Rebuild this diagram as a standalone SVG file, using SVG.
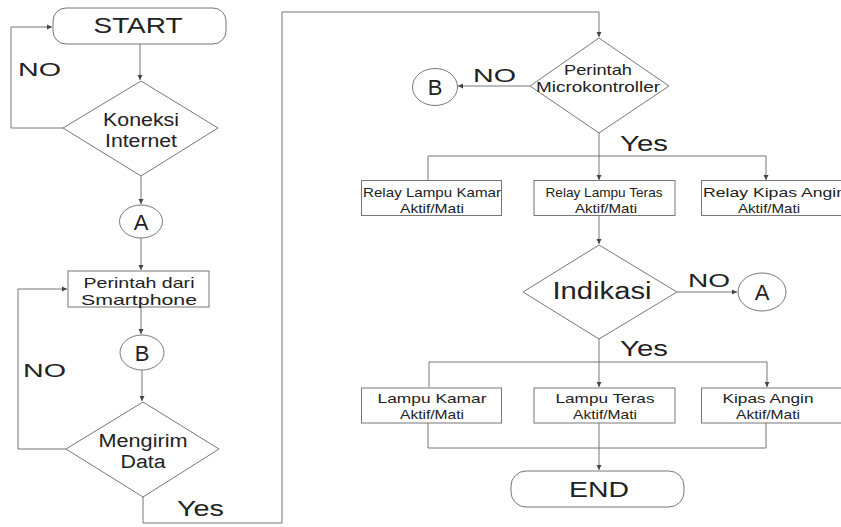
<svg xmlns="http://www.w3.org/2000/svg" width="841" height="527" viewBox="0 0 841 527">
<defs>
<marker id="ah" markerWidth="6" markerHeight="6" refX="5" refY="3" orient="auto" markerUnits="userSpaceOnUse">
<path d="M0,0.5 L5,3 L0,5.5 Z" fill="#444"/>
</marker>
<style>
.sh{fill:#fff;stroke:#777;stroke-width:1}
.cn{fill:none;stroke:#777;stroke-width:1}
.ar{marker-end:url(#ah)}
text{font-family:"Liberation Sans",Arial,sans-serif;fill:#222}
.c{text-anchor:middle}
.big{font-size:22px}
.mid{font-size:19px}
.md2{font-size:18px}
.sm{font-size:15px}
.xs{font-size:13.5px}
</style>
</defs>
<rect width="841" height="527" fill="#fff"/>
<g id="connectors">
<path class="cn ar" d="M140,44 V80"/>
<path class="cn ar" d="M63,128 H11 V27 H52"/>
<path class="cn ar" d="M141,176 V204"/>
<path class="cn ar" d="M141,238 V270"/>
<path class="cn ar" d="M141,307 V334"/>
<path class="cn ar" d="M142,370 V401"/>
<path class="cn ar" d="M66,449 H18 V289 H67"/>
<path class="cn ar" d="M143,497 V523 H282 V12 H599 V37"/>
<path class="cn ar" d="M530,86 H458"/>
<path class="cn ar" d="M599,133 V180"/>
<path class="cn ar" d="M428,180 V156 H766 V180"/>
<path class="cn ar" d="M599,216 V244"/>
<path class="cn ar" d="M677,292 H737"/>
<path class="cn ar" d="M599,339 V387"/>
<path class="cn ar" d="M429,387 V362 H767 V387"/>
<path class="cn" d="M428,423 V448 H766 V423"/>
<path class="cn ar" d="M599,423 V470"/>
</g>
<g id="labels">
<text class="mid" x="18" y="76" textLength="43" lengthAdjust="spacingAndGlyphs">NO</text>
<text class="mid" x="23" y="377" textLength="43" lengthAdjust="spacingAndGlyphs">NO</text>
<text class="big" x="177" y="516" textLength="47" lengthAdjust="spacingAndGlyphs">Yes</text>
<text class="mid" x="473" y="82" textLength="43" lengthAdjust="spacingAndGlyphs">NO</text>
<text class="big" x="620" y="151" textLength="48" lengthAdjust="spacingAndGlyphs">Yes</text>
<text class="mid" x="688" y="287" textLength="42" lengthAdjust="spacingAndGlyphs">NO</text>
<text class="big" x="620" y="356" textLength="48" lengthAdjust="spacingAndGlyphs">Yes</text>
</g>
<g id="start">
<rect class="sh" x="53" y="8" width="173" height="36" rx="13"/>
<text class="big c" x="138" y="33" textLength="89" lengthAdjust="spacingAndGlyphs">START</text>
</g>
<g id="koneksi">
<polygon class="sh" points="141,81 218,128 141,176 63,128"/>
<text class="md2 c" x="141" y="126" textLength="76" lengthAdjust="spacingAndGlyphs">Koneksi</text>
<text class="md2 c" x="141" y="147" textLength="72" lengthAdjust="spacingAndGlyphs">Internet</text>
</g>
<g id="connA1">
<ellipse class="sh" cx="141" cy="221.5" rx="21.5" ry="16.5"/>
<text class="big c" x="141" y="229.5">A</text>
</g>
<g id="perintah">
<rect class="sh" x="68" y="271" width="141" height="36"/>
<text class="sm c" x="139" y="288" textLength="111" lengthAdjust="spacingAndGlyphs">Perintah dari</text>
<text class="sm c" x="139" y="305" textLength="116" lengthAdjust="spacingAndGlyphs">Smartphone</text>
</g>
<g id="connB1">
<ellipse class="sh" cx="142" cy="352.5" rx="22" ry="17.5"/>
<text class="big c" x="142" y="360.5">B</text>
</g>
<g id="mengirim">
<polygon class="sh" points="143,402 219,449 143,497 66,449"/>
<text class="md2 c" x="143" y="447" textLength="89" lengthAdjust="spacingAndGlyphs">Mengirim</text>
<text class="md2 c" x="143" y="468" textLength="45" lengthAdjust="spacingAndGlyphs">Data</text>
</g>
<g id="micro">
<polygon class="sh" points="599,38 669,86 599,133 530,86"/>
<text class="sm c" x="598" y="75" textLength="68" lengthAdjust="spacingAndGlyphs">Perintah</text>
<text class="sm c" x="598" y="92" textLength="124" lengthAdjust="spacingAndGlyphs">Microkontroller</text>
</g>
<g id="connB2">
<ellipse class="sh" cx="435" cy="87" rx="22.5" ry="18.5"/>
<text class="big c" x="435" y="95">B</text>
</g>
<g id="relay1">
<rect class="sh" x="361.5" y="180.5" width="140" height="35"/>
<text class="xs c" x="432" y="197" textLength="138" lengthAdjust="spacingAndGlyphs">Relay Lampu Kamar</text>
<text class="xs c" x="432" y="213" textLength="64" lengthAdjust="spacingAndGlyphs">Aktif/Mati</text>
</g>
<g id="relay2">
<rect class="sh" x="534" y="180.5" width="141" height="35"/>
<text class="xs c" x="604" y="197" textLength="117" lengthAdjust="spacingAndGlyphs">Relay Lampu Teras</text>
<text class="xs c" x="606" y="213" textLength="62" lengthAdjust="spacingAndGlyphs">Aktif/Mati</text>
</g>
<g id="relay3">
<rect class="sh" x="701.5" y="180.5" width="145" height="35"/>
<text class="xs" x="703" y="197" textLength="143" lengthAdjust="spacingAndGlyphs">Relay Kipas Angin</text>
<text class="xs c" x="769" y="213" textLength="62" lengthAdjust="spacingAndGlyphs">Aktif/Mati</text>
</g>
<g id="indikasi">
<polygon class="sh" points="599,245 677,292 599,339 523,292"/>
<text class="c" style="font-size:23px" x="602" y="299" textLength="99" lengthAdjust="spacingAndGlyphs">Indikasi</text>
</g>
<g id="connA2">
<ellipse class="sh" cx="762" cy="292" rx="24" ry="19"/>
<text class="big c" x="762" y="300">A</text>
</g>
<g id="lampu1">
<rect class="sh" x="361.5" y="388" width="140" height="35"/>
<text class="xs c" x="432" y="403" textLength="109" lengthAdjust="spacingAndGlyphs">Lampu Kamar</text>
<text class="xs c" x="432" y="419" textLength="64" lengthAdjust="spacingAndGlyphs">Aktif/Mati</text>
</g>
<g id="lampu2">
<rect class="sh" x="534" y="388" width="141" height="35"/>
<text class="xs c" x="605" y="403" textLength="99" lengthAdjust="spacingAndGlyphs">Lampu Teras</text>
<text class="xs c" x="605" y="419" textLength="64" lengthAdjust="spacingAndGlyphs">Aktif/Mati</text>
</g>
<g id="kipas">
<rect class="sh" x="701.5" y="388" width="145" height="35"/>
<text class="xs c" x="768" y="403" textLength="91" lengthAdjust="spacingAndGlyphs">Kipas Angin</text>
<text class="xs c" x="768" y="419" textLength="64" lengthAdjust="spacingAndGlyphs">Aktif/Mati</text>
</g>
<g id="end">
<rect class="sh" x="511" y="471" width="173" height="36" rx="15"/>
<text class="big c" x="599" y="497" textLength="60" lengthAdjust="spacingAndGlyphs">END</text>
</g>
</svg>
